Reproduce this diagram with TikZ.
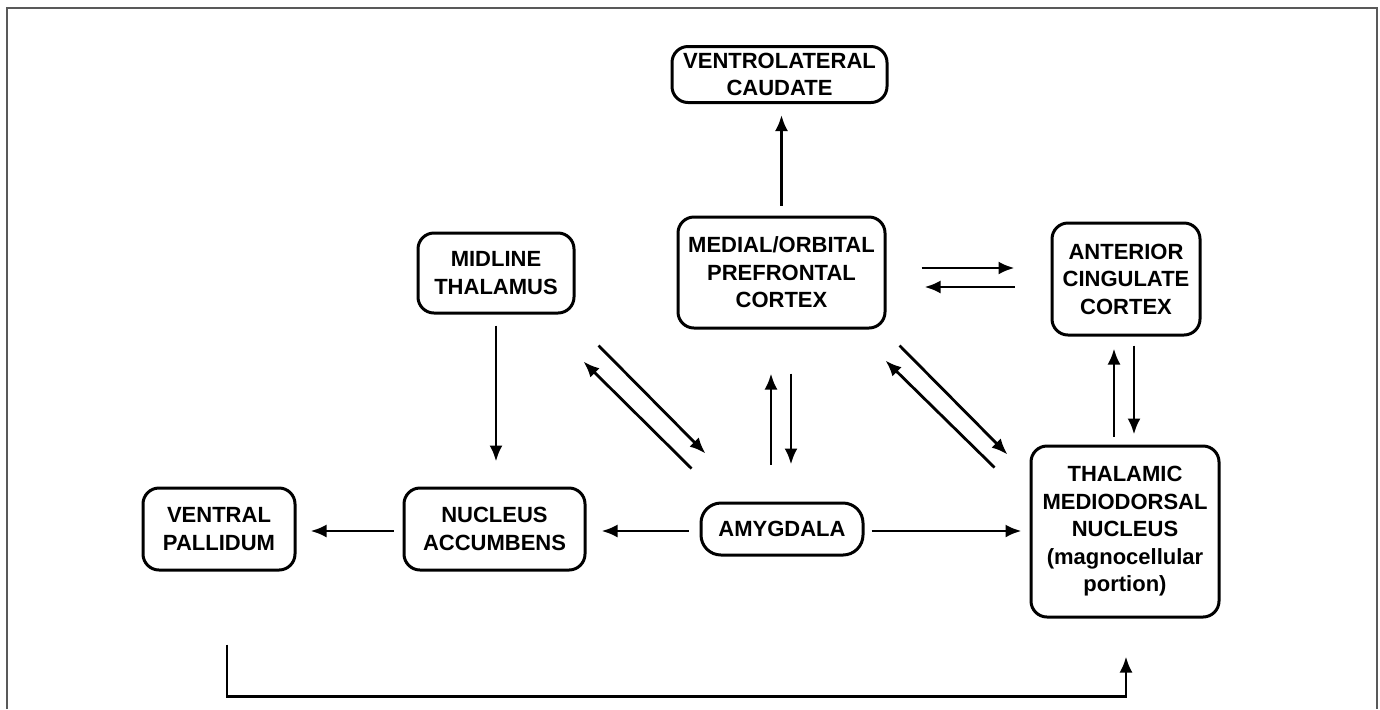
\documentclass[tikz,border=0pt]{standalone}
\usepackage{fontspec}
\setmainfont{Liberation Sans}
\usetikzlibrary{arrows.meta}
\begin{document}
\begin{tikzpicture}[x=0.5pt,y=-0.5pt,
  box/.style={draw, line width=1.5pt, rounded corners=8pt, align=center, inner sep=0pt,
    font=\fontsize{11}{13.75}\selectfont\bfseries},
  arr/.style={line width=1.4pt, -{Latex[length=8pt,width=6.5pt]}},
  frame/.style={draw=black!65, line width=0.8pt}
]
\useasboundingbox (0,0) rectangle (1380,709);
\draw[frame] (7,709) -- (7,8) -- (1377,8) -- (1377,709);

\node[box, minimum width=107.5pt, minimum height=28pt] (vlc) at (779.5,74.5) {VENTROLATERAL\\CAUDATE};
\node[box, minimum width=103.5pt, minimum height=55.5pt] (mop) at (781.5,272.5) {MEDIAL/ORBITAL\\PREFRONTAL\\CORTEX};
\node[box, minimum width=78pt, minimum height=40pt] (mid) at (496,273) {MIDLINE\\THALAMUS};
\node[box, minimum width=74pt, minimum height=56pt] (acc) at (1126,279) {ANTERIOR\\CINGULATE\\CORTEX};
\node[box, minimum width=76pt, minimum height=41pt] (vp) at (219,529) {VENTRAL\\PALLIDUM};
\node[box, minimum width=90.5pt, minimum height=41pt] (nuc) at (494.5,529) {NUCLEUS\\ACCUMBENS};
\node[box, rounded corners=10pt, minimum width=81pt, minimum height=26pt] (amy) at (782,529) {AMYGDALA};
\node[box, minimum width=94pt, minimum height=85.5pt] (tmd) at (1125,531.5) {THALAMIC\\MEDIODORSAL\\NUCLEUS\\(magnocellular\\portion)};

% prefrontal -> caudate
\draw[arr, shorten <=5pt, shorten >=5.5pt] (mop.north) -- (mop.north |- vlc.south);
% midline -> accumbens
\draw[arr, shorten <=5.5pt, shorten >=12.5pt] (mid.south) -- (mid.south |- nuc.north);
% accumbens -> pallidum
\draw[arr, shorten <=4.5pt, shorten >=7pt] (nuc.west |- 0,531) -- (vp.east |- 0,531);
% amygdala -> accumbens
\draw[arr, shorten <=5.5pt, shorten >=7.5pt] (amy.west |- 0,531) -- (nuc.east |- 0,531);
% amygdala -> mediodorsal
\draw[arr, shorten <=3.5pt, shorten >=4pt] (amy.east |- 0,531) -- (tmd.west |- 0,531);

% prefrontal <-> anterior cingulate
\draw[arr] ([shift={(35,-4.5)}]mop.east) -- ([shift={(-36,-11)}]acc.west);
\draw[arr] ([shift={(-36,8)}]acc.west) -- ([shift={(38,14.5)}]mop.east);

% anterior cingulate <-> mediodorsal
\draw[arr] ([shift={(-11,-8)}]tmd.north) -- ([shift={(-12,12)}]acc.south);
\draw[arr] ([shift={(8,9)}]acc.south) -- ([shift={(9,-10)}]tmd.north);

% prefrontal <-> amygdala
\draw[arr] ([shift={(-11,-37)}]amy.north) -- ([shift={(-10.5,44)}]mop.south);
\draw[arr] ([shift={(9.5,44)}]mop.south) -- ([shift={(9,-37)}]amy.north);

% midline thalamus <-> amygdala
\draw[arr] ([shift={(23,31)}]mid.south east) -- ([shift={(6,-48)}]amy.north west);
\draw[arr] ([shift={(-8,-33)}]amy.north west) -- ([shift={(8,47)}]mid.south east);

% prefrontal <-> mediodorsal
\draw[arr] ([shift={(13,16)}]mop.south east) -- ([shift={(-22,10)}]tmd.north west);
\draw[arr] ([shift={(-35,23)}]tmd.north west) -- ([shift={(-1,31)}]mop.south east);

% pallidum -> mediodorsal (bottom loop)
\draw[arr] ([shift={(8,73)}]vp.south) -- ++(0,52) -| ([shift={(1,38)}]tmd.south);
\end{tikzpicture}
\end{document}
